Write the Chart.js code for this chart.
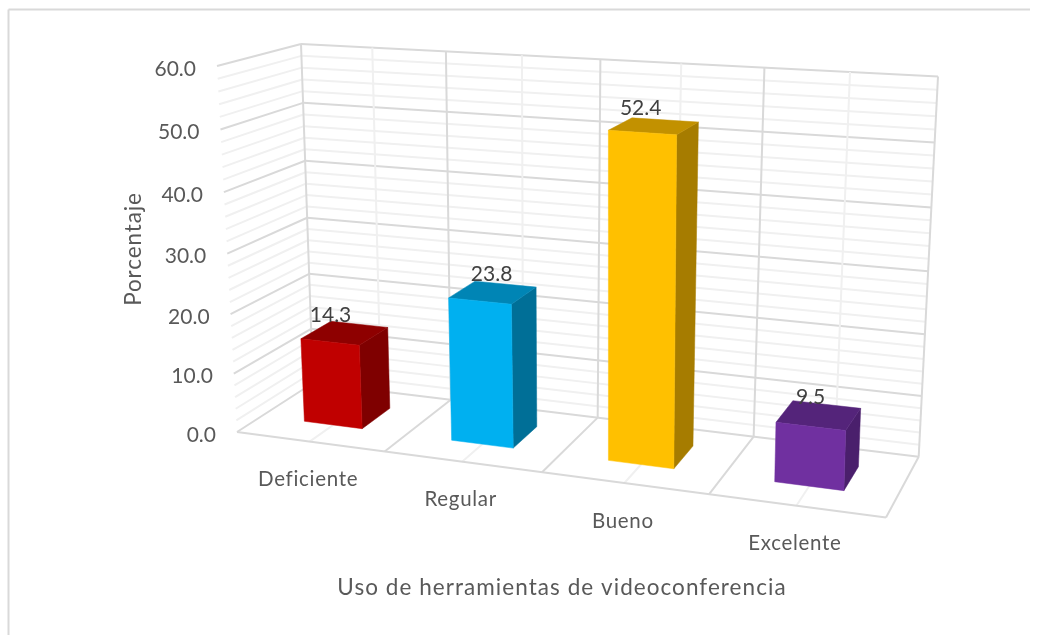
<!DOCTYPE html>
<html lang="es">

<head>
    <meta charset="UTF-8">
    <title>Uso de herramientas de videoconferencia</title>
    <script src="https://cdnjs.cloudflare.com/ajax/libs/Chart.js/4.4.1/chart.umd.min.js"></script>
    <style>
        html, body { margin: 0; background: #fff; }
        canvas { display: block; }
    </style>
</head>

<body>
    <canvas id="myChart" width="1037" height="635"></canvas>
    <script>
        // data
        const categories = ['Deficiente', 'Regular', 'Bueno', 'Excelente'];
        const porcentaje = [14.3, 23.8, 52.4, 9.5];
        const yTicks = ['0.0', '10.0', '20.0', '30.0', '40.0', '50.0', '60.0'];

        // colours per bar: front, top, side
        const frontColors = ['#C00000', '#00B0F0', '#FFC000', '#7030A0'];
        const topColors = ['#8E0000', '#0085B5', '#C29100', '#54247A'];
        const sideColors = ['#7F0000', '#006F97', '#A67C00', '#4A1F6C'];
        // excel put the value labels a bit off centre
        const labelNudge = [-14, -1, -13, -8];

        const font = 'Lato, Carlito, "Open Sans", sans-serif';
        const textColor = '#595959';
        const labelColor = '#404040';

        // the 3D box on screen: f = front, b = back, l/r = left/right, 0/1 = floor/top
        const box = {
            fl0: [237, 432], fr0: [886, 517.5], bl0: [313, 383], br0: [918.7, 456.7],
            fl1: [217, 66], fr1: [898, 108], bl1: [301, 44], br1: [938, 76.5]
        };
        const barFront = 0.33, barBack = 0.73;

        const mix = (a, b, t) => [a[0] + (b[0] - a[0]) * t, a[1] + (b[1] - a[1]) * t];

        // pixel of the flat chart area -> pixel in the box, d is depth 0..1
        function project(chart, px, py, d) {
            const area = chart.chartArea;
            let u = (px - area.left) / (area.right - area.left);
            let v = (area.bottom - py) / (area.bottom - area.top);
            u = u - 0.12 * u * (1 - u); // perspective
            v = v - 0.05 * v * (1 - v);
            const floor = mix(mix(box.fl0, box.fr0, u), mix(box.bl0, box.br0, u), d);
            const top = mix(mix(box.fl1, box.fr1, u), mix(box.bl1, box.br1, u), d);
            return mix(floor, top, v);
        }

        function line(ctx, a, b, color, width) {
            ctx.strokeStyle = color;
            ctx.lineWidth = width;
            ctx.beginPath();
            ctx.moveTo(a[0], a[1]);
            ctx.lineTo(b[0], b[1]);
            ctx.stroke();
        }

        function face(ctx, pts, color) {
            ctx.fillStyle = color;
            ctx.strokeStyle = color;
            ctx.lineWidth = 0.5;
            ctx.beginPath();
            pts.forEach((p, i) => i ? ctx.lineTo(p[0], p[1]) : ctx.moveTo(p[0], p[1]));
            ctx.closePath();
            ctx.fill();
            ctx.stroke();
        }

        function text(ctx, str, x, y, size, color, align, spacing) {
            ctx.font = size + 'px ' + font;
            ctx.letterSpacing = (spacing || 0) + 'px';
            ctx.fillStyle = color;
            ctx.textAlign = align || 'center';
            ctx.textBaseline = 'middle';
            ctx.fillText(str, x, y);
        }

        const walls3d = {
            id: 'walls3d',
            beforeDatasetsDraw(chart) {
                const ctx = chart.ctx, area = chart.chartArea;
                const xs = chart.scales.x, ys = chart.scales.y;
                const major = '#D9D9D9', minor = '#F0F0F0';

                // frame round the picture
                ctx.save();
                line(ctx, [8.5, 9.5], [1030, 9.5], major, 2);
                line(ctx, [8.5, 9.5], [8.5, 635], major, 2);

                // horizontal lines on back and side wall, 2 by 2
                for (let val = ys.min; val <= ys.max; val += 2) {
                    const py = ys.getPixelForValue(val);
                    const isMajor = val % 10 === 0;
                    const c = isMajor ? major : minor;
                    if (val === ys.min) continue;
                    line(ctx, project(chart, area.left, py, 0), project(chart, area.left, py, 1), c, 2);
                    line(ctx, project(chart, area.left, py, 1), project(chart, area.right, py, 1), c, 2);
                }

                // uprights at category centres and between categories, also on the floor
                const nCat = categories.length;
                for (let i = 0; i <= nCat * 2; i++) {
                    const px = area.left + (area.right - area.left) * i / (nCat * 2);
                    const c = i % 2 === 0 ? major : minor;
                    line(ctx, project(chart, px, area.bottom, 1), project(chart, px, area.top, 1), c, 2);
                    line(ctx, project(chart, px, area.bottom, 0), project(chart, px, area.bottom, 1), c, 2);
                }

                // floor outline
                line(ctx, project(chart, area.left, area.bottom, 0), project(chart, area.right, area.bottom, 0), major, 2);
                line(ctx, project(chart, area.left, area.bottom, 1), project(chart, area.right, area.bottom, 1), major, 2);

                // y tick labels
                ys.ticks.forEach(function (t) {
                    const p = project(chart, area.left, ys.getPixelForValue(t.value), 0);
                    text(ctx, t.label, p[0] - 21, p[1] + 3, 21, textColor, 'right');
                });

                // category labels under the front edge
                categories.forEach(function (c, i) {
                    const p = project(chart, xs.getPixelForValue(i), area.bottom, 0);
                    text(ctx, c, p[0] - 1.5, p[1] + 38, 20.5, textColor, 'center', 0.7);
                });

                // axis titles
                text(ctx, xs.options.title.text, 562, 588, 22.5, textColor, 'center', 1.05);
                ctx.translate(134, 249);
                ctx.rotate(-Math.PI / 2);
                text(ctx, ys.options.title.text, 0, 0, 22.5, textColor, 'center', 0.9);
                ctx.restore();
            },
            // the bars themselves: read from the bar elements, then pushed into the box
            beforeDatasetDraw(chart, args) {
                const ctx = chart.ctx;
                args.meta.data.forEach(function (bar, i) {
                    const p = bar.getProps(['x', 'y', 'base', 'width'], true);
                    const l = p.x - p.width / 2, r = p.x + p.width / 2;
                    const fa = (x, y) => project(chart, x, y, barFront);
                    const ba = (x, y) => project(chart, x, y, barBack);
                    face(ctx, [fa(r, p.y), ba(r, p.y), ba(r, p.base), fa(r, p.base)], sideColors[i]);
                    face(ctx, [fa(l, p.y), fa(r, p.y), ba(r, p.y), ba(l, p.y)], topColors[i]);
                    face(ctx, [fa(l, p.y), fa(r, p.y), fa(r, p.base), fa(l, p.base)], frontColors[i]);
                    const c = project(chart, p.x, p.y, (barFront + barBack) / 2);
                    ctx.save();
                    text(ctx, porcentaje[i].toFixed(1), c[0] + labelNudge[i], c[1] - 18, 21, labelColor);
                    ctx.restore();
                });
                return false;
            }
        };

        const myChart = new Chart(document.getElementById('myChart').getContext('2d'), {
            type: 'bar',
            data: {
                labels: categories,
                datasets: [{
                    label: 'Porcentaje',
                    data: porcentaje,
                    backgroundColor: frontColors,
                    barPercentage: 0.4,
                    categoryPercentage: 1
                }]
            },
            options: {
                responsive: false,
                animation: false,
                plugins: { legend: { display: false }, tooltip: { enabled: false } },
                scales: {
                    x: { display: false, title: { text: 'Uso de herramientas de videoconferencia' } },
                    y: {
                        display: false,
                        min: 0,
                        max: 60,
                        title: { text: 'Porcentaje' },
                        ticks: { stepSize: 10, callback: (v) => yTicks[v / 10] }
                    }
                }
            },
            plugins: [walls3d]
        });
    </script>

</body>

</html>
